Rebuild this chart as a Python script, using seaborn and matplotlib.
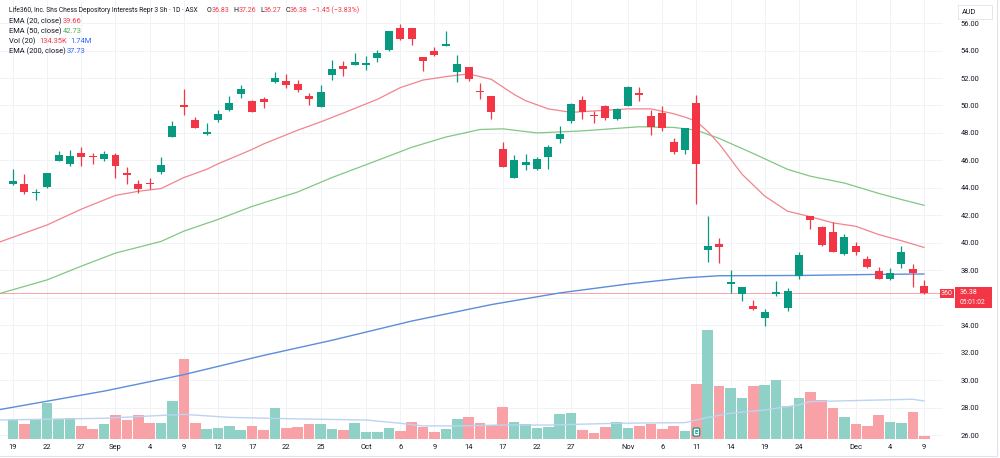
import matplotlib
matplotlib.use("Agg")
import matplotlib.pyplot as plt
import matplotlib.transforms as mtransforms
from matplotlib.patches import Rectangle
from matplotlib.lines import Line2D
import numpy as np
import seaborn as sns

# ---------------- data ----------------
tick_idx = [0, 3, 6, 9, 12, 15, 18, 21, 24, 27, 31, 34, 37, 40, 43, 46, 49,
            54, 57, 60, 63, 66, 69, 74, 77, 80]
tick_labels = ["19", "22", "27", "Sep", "4", "9", "12", "17", "22", "25", "Oct",
               "6", "9", "14", "17", "22", "27", "Nov", "6", "11", "14", "19",
               "24", "Dec", "4", "9"]

opens = [44.30, 44.28, 43.60, 44.08, 45.98, 45.74, 46.56, 46.30, 46.08, 46.36,
         45.10, 44.26, 44.37, 45.13, 47.73, 50.04, 48.94, 47.90, 48.94, 49.67,
         50.84, 50.35, 50.44, 51.69, 51.78, 51.56, 50.70, 49.91, 52.22, 52.89,
         52.96, 52.96, 53.48, 54.04, 55.62, 55.62, 53.50, 53.94, 54.30, 52.46,
         52.80, 51.07, 50.71, 46.82, 44.74, 45.68, 45.37, 46.22, 47.53, 48.87,
         50.40, 49.27, 49.96, 49.00, 49.98, 50.91, 49.24, 49.48, 47.31, 46.76,
         50.16, 39.47, 39.91, 36.97, 36.27, 35.42, 34.50, 36.27, 35.27, 37.55,
         41.95, 41.12, 40.80, 39.18, 39.74, 38.80, 37.94, 37.35, 38.43, 38.09,
         36.83]
highs = [45.40, 45.00, 43.90, 45.10, 46.68, 46.76, 47.00, 46.55, 46.70, 46.52,
         45.54, 44.57, 44.70, 46.22, 48.89, 51.20, 49.18, 48.72, 49.67, 50.69,
         51.49, 50.40, 50.60, 52.41, 52.26, 51.85, 50.93, 51.49, 53.30, 53.24,
         53.80, 53.60, 54.04, 55.45, 55.93, 55.65, 53.50, 54.24, 55.45, 53.68,
         52.80, 51.65, 50.71, 47.36, 46.39, 46.50, 46.22, 47.12, 48.50, 50.16,
         50.69, 49.60, 50.05, 49.85, 51.40, 51.32, 49.67, 49.93, 47.60, 48.34,
         50.76, 41.95, 40.33, 38.02, 36.76, 35.83, 35.16, 37.22, 36.68, 39.32,
         41.95, 41.20, 41.53, 40.64, 40.06, 39.05, 38.26, 38.14, 39.74, 38.43,
         37.26]
lows = [44.20, 43.55, 43.10, 44.00, 45.95, 45.60, 45.56, 45.75, 45.98, 44.70,
        44.26, 43.65, 43.90, 45.00, 47.70, 49.30, 48.33, 47.85, 48.77, 49.62,
        50.52, 49.50, 49.80, 51.61, 51.25, 50.96, 50.03, 49.90, 51.85, 52.17,
        52.96, 52.60, 53.16, 54.00, 54.77, 54.40, 52.49, 53.57, 54.30, 51.70,
        51.80, 50.45, 49.00, 45.50, 44.70, 45.30, 45.30, 45.37, 47.25, 48.70,
        49.00, 48.75, 48.96, 48.94, 49.95, 50.30, 47.85, 48.15, 46.44, 46.50,
        42.80, 38.62, 38.50, 36.32, 35.74, 35.10, 33.97, 36.10, 35.00, 37.35,
        41.00, 39.80, 39.35, 39.10, 39.09, 38.20, 37.40, 37.29, 38.14, 36.80,
        36.27]
closes = [44.50, 43.72, 43.65, 45.06, 46.41, 46.32, 46.22, 46.25, 46.47, 45.60,
          44.91, 43.90, 44.30, 45.69, 48.50, 49.86, 48.33, 48.04, 49.35, 50.15,
          51.20, 49.55, 50.27, 51.97, 51.50, 51.13, 50.50, 51.00, 52.63, 52.63,
          53.18, 53.10, 53.80, 55.42, 54.82, 54.82, 53.22, 53.65, 54.45, 53.00,
          51.90, 50.95, 49.49, 45.51, 46.03, 45.85, 46.10, 47.00, 47.92, 50.11,
          49.55, 49.20, 49.09, 49.72, 51.36, 50.78, 48.46, 48.34, 46.60, 48.34,
          45.74, 39.79, 39.71, 37.12, 36.76, 35.17, 34.94, 36.44, 36.49, 39.08,
          41.66, 39.84, 39.35, 40.40, 39.33, 38.26, 37.40, 37.82, 39.30, 37.83,
          36.38]
# volume in millions of shares
volumes = [0.87, 0.69, 0.90, 1.64, 0.90, 0.95, 0.58, 0.44, 0.69, 1.09,
           0.87, 1.11, 0.72, 0.72, 1.74, 3.66, 0.72, 0.47, 0.50, 0.60,
           0.41, 0.60, 0.41, 1.41, 0.50, 0.56, 0.67, 0.67, 0.46, 0.40,
           0.75, 0.33, 0.33, 0.49, 0.37, 0.78, 0.54, 0.32, 0.46, 0.93,
           1.01, 0.73, 0.65, 1.45, 0.79, 0.67, 0.52, 0.56, 1.15, 1.18,
           0.41, 0.29, 0.56, 0.76, 0.52, 0.60, 0.67, 0.47, 0.58, 0.38,
           2.51, 4.99, 2.44, 2.35, 1.86, 2.44, 2.46, 2.70, 1.53, 1.86,
           2.15, 1.79, 1.43, 0.99, 0.67, 0.60, 1.10, 0.79, 0.75, 1.24,
           0.134]

ema20_idx = [-1.2, 3, 6, 9, 11, 13, 15, 17, 18, 19, 21, 22, 25, 27, 29, 32, 34,
             36, 38, 40, 42, 44, 45, 47, 49, 51, 54, 56, 58, 59, 60, 61, 62,
             64, 66, 68, 70, 72, 74, 76, 78, 80]
ema20_val = [40.05, 41.30, 42.45, 43.45, 43.75, 43.95, 44.75, 45.35, 45.75,
             46.10, 46.80, 47.20, 48.20, 48.80, 49.45, 50.45, 51.30, 51.85,
             52.10, 52.30, 51.90, 50.80, 50.35, 49.75, 49.50, 49.60, 49.75,
             49.75, 49.40, 49.15, 48.85, 48.10, 47.20, 45.00, 43.40, 42.30,
             41.90, 41.45, 41.20, 40.60, 40.15, 39.66]
ema50_idx = [-1.2, 3, 6, 9, 13, 15, 18, 21, 25, 28, 32, 35, 38, 41, 43, 46,
             50, 55, 58, 60, 62, 65, 68, 70, 73, 76, 78, 80]
ema50_val = [36.30, 37.30, 38.30, 39.25, 40.10, 40.85, 41.70, 42.65, 43.70,
             44.75, 46.00, 46.95, 47.70, 48.25, 48.30, 48.00, 48.15, 48.45,
             48.40, 48.20, 47.60, 46.50, 45.35, 44.85, 44.35, 43.60, 43.15,
             42.73]
ema200_idx = [-1.2, 8, 15, 22, 28, 35, 42, 48, 54, 59, 62, 69, 76, 80]
ema200_val = [27.85, 29.20, 30.40, 31.80, 32.90, 34.30, 35.50, 36.35, 37.00,
              37.45, 37.60, 37.62, 37.70, 37.73]
volma_idx = [-1.2, 8, 15, 19, 25, 31, 34, 36, 39, 43, 47, 53, 59, 61, 63, 66,
             69, 70, 73, 79, 80]
volma_val = [0.87, 0.95, 1.13, 0.99, 0.92, 0.87, 0.72, 0.60, 0.60, 0.64, 0.64,
             0.72, 0.75, 0.99, 1.18, 1.33, 1.56, 1.71, 1.75, 1.82, 1.74]

price_ticks = list(range(26, 57, 2))
last_price = 36.38

# ---------------- style ----------------
UP, DN = "#089981", "#f23645"
VUP, VDN = "#8fd1c6", "#f8a2a8"
TXT = "#131722"
GRID = "#f0f2f6"

sns.set_theme(style="white")
plt.rcParams['font.family'] = ['Roboto', 'DejaVu Sans']

W, H = 1000, 458
fig = plt.figure(figsize=(W / 100, H / 100), dpi=100)
fig.patch.set_facecolor("white")

PL, PR, PT, PB = 0, 943, 0, 440
rect = [PL / W, 1 - PB / H, (PR - PL) / W, (PB - PT) / H]
axv = fig.add_axes(rect)
ax = fig.add_axes(rect, sharex=axv)
ax.patch.set_visible(False)

xlim = (-1.14, 81.65)
ax.set_xlim(*xlim)
ax.set_ylim(25.64, 57.68)

# grid (under everything)
trans_h = mtransforms.blended_transform_factory(axv.transAxes, ax.transData)
for p in price_ticks:
    axv.add_line(Line2D([0, 1], [p, p], transform=trans_h, color=GRID, lw=0.7, zorder=0))
trans_v = mtransforms.blended_transform_factory(axv.transData, axv.transAxes)
for t in tick_idx:
    axv.add_line(Line2D([t, t], [0, 1], transform=trans_v, color=GRID, lw=0.7, zorder=0))

idx = np.arange(len(opens))
o = np.array(opens); c = np.array(closes); h = np.array(highs); l = np.array(lows)
up = c >= o

# volume
axv.bar(idx, volumes, width=0.93, color=np.where(up, VUP, VDN), linewidth=0, zorder=2)
sns.lineplot(x=volma_idx, y=volma_val, ax=axv, color="#bcd4f1", lw=1.0, zorder=3)
axv.set_ylim(-0.046, 20.11)
axv.set_xlim(*xlim)

# EMAs
sns.lineplot(x=ema200_idx, y=ema200_val, ax=ax, color="#5b8ed8", lw=1.0, zorder=2)
sns.lineplot(x=ema50_idx, y=ema50_val, ax=ax, color="#81c784", lw=0.9, zorder=2)
sns.lineplot(x=ema20_idx, y=ema20_val, ax=ax, color="#f3838d", lw=0.9, zorder=2)

# last price line
ax.axhline(last_price, color="#f23645", alpha=0.45, lw=0.7, zorder=1)

# candles
cols = np.where(up, UP, DN)
ax.vlines(idx, l, h, colors=cols, lw=0.9, zorder=4)
body = np.maximum(np.abs(c - o), 0.07)
ax.bar(idx, body, bottom=np.minimum(o, c), width=0.7, color=cols, linewidth=0, zorder=5)

ax.set_xlim(*xlim)
ax.set_ylim(25.64, 57.68)

# axes cosmetics
for a in (ax, axv):
    for s in a.spines.values():
        s.set_visible(False)
    a.set_xlabel(""); a.set_ylabel("")
axv.set_yticks([])
axv.tick_params(axis="x", length=0, labelbottom=False)
ax.set_xticks(tick_idx)
ax.set_xticklabels(tick_labels)
ax.tick_params(axis="x", length=0, pad=3, labelsize=5.4, labelcolor=TXT)
ax.yaxis.tick_right()
ax.set_yticks(price_ticks)
# the 36.00 label sits under the last-price badge, as in the reference
ax.set_yticklabels(["" if v == 36 else f"{v:.2f}" for v in price_ticks])
ax.tick_params(axis="y", length=0, pad=12.5, labelsize=5.4, labelcolor=TXT)
ax.tick_params(axis="y", left=False, labelleft=False)

# earnings marker
trans_e = mtransforms.blended_transform_factory(ax.transData, ax.transAxes)
ax.text(60, 0.018, "E", transform=trans_e, ha="center", va="center", fontsize=4.5,
        color=UP, fontweight="bold", zorder=6,
        bbox=dict(boxstyle="round,pad=0.25", fc="white", ec=UP, lw=0.9))

# ---------------- figure-level labels ----------------
def fx(x):
    return x / W

def fy(y):
    return 1 - y / H

renderer = fig.canvas.get_renderer()

def flow(x, y, parts, fs=5.4, gap=0.0):
    for txt, col in parts:
        t = fig.text(fx(x), fy(y), txt, color=col, fontsize=fs, ha="left", va="center")
        bb = t.get_window_extent(renderer=renderer)
        x += bb.width + gap
    return x

FS = 5.4
xe = flow(9, 10, [("Life360, Inc. Shs Chess Depository Interests Repr 3 Sh · 1D · ASX", TXT)], fs=4.75)
xe = flow(max(xe + 4, 207), 10, [("O", TXT), ("36.83", DN)], fs=5.0)
xe = flow(xe + 4, 10, [("H", TXT), ("37.26", DN)], fs=5.0)
xe = flow(xe + 4, 10, [("L", TXT), ("36.27", DN)], fs=5.0)
xe = flow(xe + 4, 10, [("C", TXT), ("36.38", DN)], fs=5.0)
flow(xe + 4, 10, [("\u22121.45 (\u22123.83%)", DN)], fs=5.0)
fig.text(fx(9), fy(21.5), "EMA (20, close)", color=TXT, fontsize=FS, va="center")
fig.text(fx(63), fy(21.5), "39.66", color=DN, fontsize=FS, va="center")
fig.text(fx(9), fy(31.7), "EMA (50, close)", color=TXT, fontsize=FS, va="center")
fig.text(fx(63), fy(31.7), "42.73", color="#4caf50", fontsize=FS, va="center")
fig.text(fx(9), fy(41.7), "Vol (20)", color=TXT, fontsize=FS, va="center")
fig.text(fx(39), fy(41.7), "134.35K", color=DN, fontsize=FS, va="center")
fig.text(fx(70), fy(41.7), "1.74M", color="#2962ff", fontsize=FS, va="center")
fig.text(fx(9), fy(51.7), "EMA (200, close)", color=TXT, fontsize=FS, va="center")
fig.text(fx(67), fy(51.7), "37.73", color="#2962ff", fontsize=FS, va="center")

def box(x0, y0, x1, y1, fc, ec=None, lw=0):
    r = Rectangle((fx(x0), fy(y1)), fx(x1 - x0), (y1 - y0) / H, transform=fig.transFigure,
                  facecolor=fc, edgecolor=ec if ec else fc, lw=lw, zorder=5)
    fig.patches.append(r)

# AUD box
box(958, 5, 992, 19, "white", "#e0e3eb", 0.6)
fig.text(fx(962), fy(12), "AUD", color=TXT, fontsize=5.2, va="center", zorder=6)

# last price labels
box(940, 289, 954, 298, DN)
fig.text(fx(947), fy(293.5), "360", color="white", fontsize=5.0, ha="center", va="center", zorder=6)
box(955, 287, 992, 308, DN)
fig.text(fx(960), fy(292.3), "36.38", color="white", fontsize=5.0, ha="left", va="center", zorder=6)
fig.text(fx(960), fy(302.3), "05:01:02", color="white", fontsize=4.8, ha="left", va="center", zorder=6)

# outer frame (right and bottom)
fig.lines.append(Line2D([fx(996.5), fx(996.5)], [fy(0), fy(455.5)], transform=fig.transFigure,
                        color="#e0e3eb", lw=0.8))
fig.lines.append(Line2D([fx(0), fx(996.5)], [fy(455.5), fy(455.5)], transform=fig.transFigure,
                        color="#e0e3eb", lw=0.8))

fig.savefig("out.png", dpi=100, facecolor="white")
